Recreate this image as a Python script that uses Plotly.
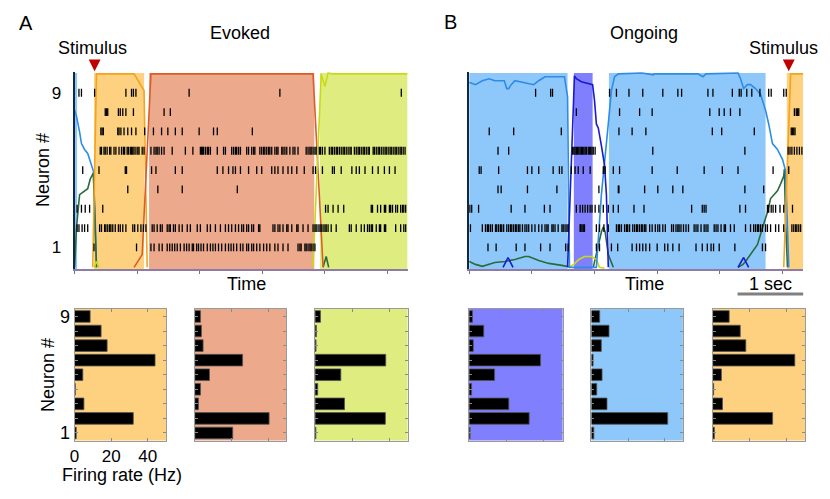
import plotly.graph_objects as go

W, H = 830, 499
FONT = "Liberation Sans, Arial, sans-serif"

# ---------------- data ----------------
neurons = [1, 2, 3, 4, 5, 6, 7, 8, 9]

# Evoked trial: spike times (s) per neuron
ev_n1 = [0.31, 0.99, 1.22, 1.27, 1.35, 1.40, 1.48, 1.52, 1.56, 1.60, 1.64, 1.69, 1.75, 1.79, 1.83, 1.88, 1.90, 1.95, 1.98,
         2.02, 2.06, 2.12, 2.17, 2.21, 2.25, 2.30, 2.35, 2.41, 2.46, 2.50, 2.54, 2.59, 2.65, 2.69, 2.75, 2.78, 2.83, 2.86,
         2.91, 2.96, 3.02, 3.07, 3.12, 3.20, 3.25, 3.33, 3.41, 3.57, 3.60, 3.62, 3.68, 3.70, 3.73, 3.76, 3.78, 3.81, 3.84]
ev_n2 = [0.04, 0.07, 0.12, 0.16, 0.21, 0.40, 0.43, 0.48, 0.50, 0.53, 0.56, 0.58, 0.61, 0.65, 0.70, 0.73, 0.77, 0.82, 0.93,
         0.96, 1.01, 1.06, 1.10, 1.14, 1.24, 1.27, 1.32, 1.37, 1.40, 1.48, 1.51, 1.53, 1.58, 1.61, 1.67, 1.72, 1.80, 1.85,
         1.96, 2.01, 2.12, 2.17, 2.25, 2.33, 2.41, 2.46, 2.51, 2.57, 2.62, 2.67, 2.70, 2.75, 2.78, 2.83, 2.86, 2.94, 2.96,
         3.17, 3.20, 3.25, 3.28, 3.33, 3.39, 3.41, 3.47, 3.55, 3.57, 3.65, 3.73, 3.81, 3.84, 3.86, 3.89, 3.92, 3.94, 3.97,
         4.00, 4.02, 4.05, 4.10, 4.18, 4.39, 4.42, 4.50, 4.58, 4.63, 4.68, 4.71, 4.74, 4.76, 4.82, 4.87, 4.89, 4.95, 4.97,
         5.13, 5.21, 5.26, 5.29]
ev_n3 = [0.04, 0.11, 0.17, 0.24, 0.45, 4.01, 4.05, 4.13, 4.21, 4.30, 4.74, 4.76, 4.84, 4.89, 4.95, 4.97, 5.03, 5.05, 5.08,
         5.13, 5.16, 5.21, 5.24, 5.26, 5.29]
ev_n4 = [0.85, 1.33, 1.72, 2.60]
ev_n5 = [0.13, 0.39, 0.81, 0.83, 1.23, 1.30, 1.61, 1.72, 2.28, 2.37, 2.46, 2.53, 2.57, 2.65, 2.78, 2.91, 2.99, 3.15, 3.20,
         3.25, 3.33, 3.41, 3.47, 3.55, 3.67, 3.81, 3.85, 3.96, 4.12, 4.15, 4.26, 4.43, 4.50, 4.55, 4.64, 4.76, 4.85, 4.95,
         5.03, 5.12]
ev_n6 = [0.41, 0.43, 0.47, 0.49, 0.52, 0.56, 0.58, 0.63, 0.66, 0.71, 0.75, 0.78, 0.80, 0.84, 0.86, 0.89, 0.91, 0.93, 0.95,
         0.98, 1.01, 1.03, 1.08, 1.11, 1.22, 1.27, 1.30, 1.32, 1.35, 1.39, 1.43, 1.56, 1.77, 1.89, 2.01, 2.03, 2.04, 2.06,
         2.09, 2.12, 2.14, 2.17, 2.28, 2.38, 2.41, 2.51, 2.54, 2.57, 2.59, 2.62, 2.65, 2.75, 2.78, 2.83, 2.86, 2.88, 2.96,
         2.99, 3.02, 3.04, 3.07, 3.10, 3.12, 3.15, 3.20, 3.23, 3.25, 3.31, 3.33, 3.36, 3.39, 3.44, 3.49, 3.52, 3.57, 3.70,
         3.73, 3.76, 3.78, 3.81, 3.84, 3.86, 3.91, 3.93, 3.96, 4.00, 4.07, 4.10, 4.12, 4.15, 4.18, 4.20, 4.23, 4.26, 4.29,
         4.31, 4.34, 4.37, 4.40, 4.42, 4.47, 4.50, 4.53, 4.55, 4.58, 4.61, 4.63, 4.66, 4.69, 4.71, 4.77, 4.79, 4.82, 4.85,
         4.87, 4.90, 4.93, 4.96, 4.98, 5.01, 5.04, 5.06, 5.09, 5.12, 5.14, 5.17, 5.20, 5.22, 5.25, 5.28]
ev_n7 = [0.42, 0.44, 0.46, 0.69, 0.71, 0.74, 0.79, 0.85, 0.91, 0.98, 1.12, 1.26, 1.39, 1.49, 1.61, 1.72, 1.99, 2.22, 2.28,
         2.84]
ev_n8 = [0.49, 0.51, 0.53, 0.70, 0.73, 0.77, 0.82, 0.94, 1.43, 1.53]
ev_n9 = [0.07, 0.11, 0.32, 0.82, 0.91, 0.94, 0.98, 1.83, 3.28, 5.22]

# Ongoing trial: spike times (s) per neuron
on_n1 = [0.30, 0.43, 0.75, 0.89, 1.14, 1.29, 1.54, 1.58, 2.03, 2.08, 2.27, 2.37, 2.60, 2.67, 2.72, 2.77, 2.82, 2.88, 3.00,
         3.12, 3.17, 3.25, 3.35, 3.62, 3.72, 3.80, 3.86, 3.90, 3.99, 4.24, 4.68, 4.73]
on_n2 = [0.02, 0.21, 0.26, 0.29, 0.31, 0.34, 0.37, 0.42, 0.44, 0.47, 0.50, 0.52, 0.55, 0.60, 0.63, 0.66, 0.68, 0.71, 0.74,
         0.76, 0.79, 0.81, 0.85, 0.89, 0.92, 0.95, 1.00, 1.05, 1.11, 1.16, 1.21, 1.24, 1.26, 1.32, 1.34, 1.37, 1.42, 1.48,
         1.50, 1.53, 1.56, 1.58, 1.77, 1.78, 1.80, 1.82, 1.84, 2.03, 2.08, 2.15, 2.22, 2.35, 2.38, 2.40, 2.43, 2.48, 2.51,
         2.53, 2.56, 2.61, 2.64, 2.67, 2.69, 2.72, 2.75, 2.77, 2.80, 2.82, 2.88, 2.92, 2.97, 3.01, 3.04, 3.09, 3.13, 3.23,
         3.26, 3.30, 3.33, 3.35, 3.38, 3.42, 3.46, 3.50, 3.59, 3.62, 3.65, 3.70, 3.75, 3.78, 3.81, 3.91, 3.94, 3.97, 4.02,
         4.07, 4.09, 4.17, 4.23, 4.41, 4.49, 4.54, 4.57, 4.60, 4.62, 4.65, 4.68, 4.73, 4.76, 4.81, 4.89, 4.94, 5.02, 5.15,
         5.18, 5.21, 5.23, 5.26, 5.29]
on_n3 = [0.01, 0.04, 0.15, 0.67, 0.89, 1.20, 1.29, 1.71, 1.77, 1.81, 1.85, 1.89, 1.93, 1.96, 2.01, 2.07, 2.14, 2.22, 2.30,
         2.38, 2.63, 2.79, 3.55, 3.72, 3.75, 3.78, 4.32, 4.41, 4.76, 4.78, 4.82, 4.85, 4.89, 4.96, 5.02, 5.16]
on_n4 = [0.46, 0.51, 0.93, 1.40, 2.07, 2.38, 2.39, 2.80, 3.01, 3.25, 3.41, 4.40, 4.70]
on_n5 = [0.16, 0.19, 0.47, 0.93, 1.00, 1.11, 1.34, 1.44, 1.48, 1.63, 1.69, 1.74, 1.82, 1.93, 2.14, 2.17, 2.30, 2.40, 2.92,
         3.32, 3.75, 4.04, 4.29, 4.85, 5.10]
on_n6 = [0.46, 0.63, 1.65, 1.67, 1.69, 1.71, 1.73, 1.75, 1.77, 1.79, 1.81, 1.83, 1.85, 1.87, 1.90, 1.92, 1.94, 1.96, 1.98,
         2.01, 2.93, 4.40, 5.09, 5.12, 5.15, 5.19, 5.23, 5.27, 5.31]
on_n7 = [0.32, 0.71, 1.47, 2.39, 2.60, 2.82, 3.88, 4.03, 4.55, 5.14, 5.16, 5.18, 5.20]
on_n8 = [1.71, 2.40, 2.72, 2.92, 3.84, 3.99, 4.07, 4.17, 4.32, 5.19, 5.22, 5.24, 5.26]
on_n9 = [1.06, 1.30, 1.33, 2.24, 2.35, 2.55, 2.77, 3.09, 3.33, 3.39, 3.81, 3.89, 4.20, 4.31, 4.34, 4.43, 4.51, 4.64, 4.78,
         4.82, 5.02, 5.06]

evoked_spikes = [ev_n1, ev_n2, ev_n3, ev_n4, ev_n5, ev_n6, ev_n7, ev_n8, ev_n9]
ongoing_spikes = [on_n1, on_n2, on_n3, on_n4, on_n5, on_n6, on_n7, on_n8, on_n9]

# Decoded state intervals (s)
ev_state_start = [0.00, 0.31, 1.19, 3.92]
ev_state_end = [0.04, 1.11, 3.83, 5.32]
ev_state_name = ["blue", "orange", "salmon", "lime"]
on_state_start = [0.00, 1.67, 2.23, 5.07]
on_state_end = [1.57, 1.97, 4.73, 5.33]
on_state_name = ["blue", "purple", "blue", "orange"]

# State posterior probabilities, evoked trial
ev_blue_t = [0.00, 0.03, 0.08, 0.11, 0.16, 0.21, 0.25, 0.30, 0.33, 0.35]
ev_blue_p = [0.81, 0.78, 0.70, 0.64, 0.61, 0.59, 0.55, 0.50, 0.25, 0.01]
ev_green_t = [0.00, 0.03, 0.08, 0.16, 0.21, 0.25, 0.30, 0.33, 0.35, None, 3.97, 4.02, 4.06]
ev_green_p = [0.01, 0.21, 0.38, 0.40, 0.41, 0.46, 0.49, 0.20, 0.01, None, 0.01, 0.065, 0.01]
ev_orange_t = [0.29, 0.35, 0.95, 1.11, 1.16]
ev_orange_p = [0.01, 0.995, 0.995, 0.91, 0.01]
ev_salmon_t = [0.95, 1.08, 1.22, 3.81, 3.97]
ev_salmon_p = [0.01, 0.075, 0.995, 0.995, 0.01]
ev_lime_t = [0.31, 0.35, 0.39, None, 3.81, 3.94, 4.00, 4.05, 4.13, 5.32]
ev_lime_p = [0.01, 0.04, 0.01, None, 0.01, 0.995, 0.93, 1.00, 0.995, 0.995]

# State posterior probabilities, ongoing trial
on_blue_t = [0.00, 0.02, 0.10, 0.21, 0.32, 0.41, 0.56, 0.60, 0.63, 0.67, 0.73, 0.89, 1.03, 1.11, 1.21, 1.37, 1.52, 1.57,
             1.60, 2.03, 2.11, 2.22, 2.27, 2.32, 2.38, 2.75, 2.90, 2.94, 2.95, 3.65, 3.73, 3.78, 4.29, 4.33, 4.38, 4.44,
             4.49, 4.57, 4.65, 4.73, 4.78, 4.84, 4.92, 5.00, 5.05, 5.08, 5.10]
on_blue_p = [0.95, 0.95, 0.94, 0.96, 0.97, 0.96, 0.96, 0.92, 0.92, 0.94, 0.96, 0.95, 0.94, 0.96, 0.98, 0.98, 0.98, 0.88,
             0.01, 0.01, 0.38, 0.74, 0.91, 0.98, 0.995, 1.00, 0.995, 0.99, 0.995, 0.995, 0.98, 0.995, 1.00, 0.97, 0.92,
             0.94, 0.94, 0.92, 0.89, 0.81, 0.74, 0.64, 0.61, 0.56, 0.50, 0.24, 0.01]
on_purple_t = [0.54, 0.62, 0.70, None, 1.57, 1.63, 1.68, 1.71, 1.79, 1.97, 2.00, 2.03, 2.06, 2.11, 2.16, 2.19, 2.22,
               None, 4.29, 4.38, 4.46]
on_purple_p = [0.01, 0.06, 0.01, None, 0.01, 0.52, 0.985, 0.97, 0.955, 0.94, 0.86, 0.74, 0.72, 0.63, 0.53, 0.38, 0.01,
               None, 0.01, 0.06, 0.01]
on_green_t = [0.00, 0.10, 0.21, 0.32, 0.41, 0.57, 0.73, 0.89, 0.95, 1.11, 1.27, 1.48, 1.59, 1.63, None, 1.98, 2.06,
              2.11, 2.14, 2.17, 2.22, 2.30, None, 4.29, 4.37, 4.41, 4.49, 4.60, 4.68, 4.76, 4.81, 4.86, 4.92, 4.97,
              5.02, 5.03, 5.05, 5.08]
on_green_p = [0.04, 0.025, 0.015, 0.025, 0.035, 0.04, 0.05, 0.065, 0.065, 0.045, 0.03, 0.02, 0.015, 0.01, None, 0.01,
              0.125, 0.19, 0.215, 0.19, 0.075, 0.01, None, 0.01, 0.025, 0.04, 0.075, 0.125, 0.21, 0.29, 0.36, 0.38,
              0.40, 0.435, 0.475, 0.51, 0.24, 0.01]
on_lime_t = [1.59, 1.67, 1.75, 1.84, 1.95, 2.03, 2.08, 2.16]
on_lime_p = [0.01, 0.025, 0.05, 0.065, 0.065, 0.05, 0.01, 0.005]
on_orange_t = [5.02, 5.13, 5.33]
on_orange_p = [0.01, 0.995, 0.995]

ev_stimulus_t = 0.32
on_stimulus_t = 5.10

# Firing rates (Hz) of neurons 1..9 in each state
rate_ev_orange = [0.9, 32.1, 5.1, 0.4, 4.5, 44.0, 17.8, 14.5, 8.5]
rate_ev_salmon = [20.7, 40.6, 2.0, 3.1, 8.0, 26.1, 4.5, 3.6, 3.1]
rate_ev_lime = [0.4, 38.0, 15.9, 1.4, 13.9, 38.2, 0.5, 0.7, 2.9]
rate_on_purple = [0.5, 32.1, 21.2, 1.3, 13.6, 38.2, 2.2, 7.8, 1.8]
rate_on_blue = [1.3, 41.7, 8.5, 2.9, 5.8, 0.9, 5.4, 9.6, 4.5]
rate_on_orange = [0.9, 32.4, 5.3, 0.5, 4.7, 44.4, 17.9, 14.9, 8.9]
rate_ticks = [0, 20, 40]

# ---------------- style ----------------
FILL = {"blue": "#8EC7FA", "orange": "#FDD17F", "salmon": "#ECA98C", "lime": "#DFEC7F", "purple": "#8080FF"}
LINE = {"blue": "#2D8DE6", "orange": "#F5A21E", "salmon": "#DE5B24", "lime": "#C9DA14", "purple": "#1A1AD0",
        "green": "#2B6B3B"}


def px_x(v):
    return v / W


def px_y(v):
    return 1 - v / H


fig = go.Figure()

TOP_Y = [px_y(270), px_y(71)]
panels_top = [
    dict(x="x", yp="y", yn="y2", dom=[px_x(70), px_x(405)], rng=[0, 5.32],
         starts=ev_state_start, ends=ev_state_end, names=ev_state_name, spikes=evoked_spikes,
         curves=[(ev_blue_t, ev_blue_p, "blue"), (ev_green_t, ev_green_p, "green"),
                 (ev_orange_t, ev_orange_p, "orange"), (ev_salmon_t, ev_salmon_p, "salmon"),
                 (ev_lime_t, ev_lime_p, "lime")],
         stim=ev_stimulus_t, labels=True),
    dict(x="x2", yp="y3", yn="y4", dom=[px_x(467), px_x(803)], rng=[0, 5.33],
         starts=on_state_start, ends=on_state_end, names=on_state_name, spikes=ongoing_spikes,
         curves=[(on_green_t, on_green_p, "green"), (on_lime_t, on_lime_p, "lime"),
                 (on_blue_t, on_blue_p, "blue"), (on_purple_t, on_purple_p, "purple"),
                 (on_orange_t, on_orange_p, "orange")],
         stim=on_stimulus_t, labels=False),
]

for P in panels_top:
    # state fills
    for s, e, n in zip(P["starts"], P["ends"], P["names"]):
        fig.add_trace(go.Scatter(x=[s, s, e, e, s], y=[0, 1, 1, 0, 0], xaxis=P["x"], yaxis=P["yp"],
                                 mode="lines", fill="toself", fillcolor=FILL[n],
                                 line=dict(width=0, color=FILL[n]), hoverinfo="skip", showlegend=False))
    # posterior curves
    for t, p, c in P["curves"]:
        fig.add_trace(go.Scatter(x=t, y=p, xaxis=P["x"], yaxis=P["yp"], mode="lines",
                                 line=dict(color=LINE[c], width=1.6), hoverinfo="skip", showlegend=False,
                                 connectgaps=False))
    # spikes
    sx, sy = [], []
    for n, times in zip(neurons, P["spikes"]):
        sx += times
        sy += [n] * len(times)
    fig.add_trace(go.Scatter(x=sx, y=sy, xaxis=P["x"], yaxis=P["yn"], mode="markers",
                             marker=dict(symbol="line-ns", size=5.6, line=dict(width=1.3, color="black")),
                             hoverinfo="skip", showlegend=False))

lay = dict(width=W, height=H, margin=dict(l=0, r=0, t=0, b=0), paper_bgcolor="white", plot_bgcolor="white",
           showlegend=False, font=dict(family=FONT, size=17, color="black"))

for i, P in enumerate(panels_top):
    xa = "xaxis" if P["x"] == "x" else "xaxis2"
    ypa = "yaxis" if P["yp"] == "y" else "yaxis" + P["yp"][1:]
    yna = "yaxis" + P["yn"][1:]
    lay[xa] = dict(domain=P["dom"], range=P["rng"], anchor=P["yp"], showgrid=False, zeroline=False,
                   showline=True, linecolor="#8E7BA8", linewidth=2, ticks="outside", ticklen=3,
                   tickcolor="#777", tick0=0, dtick=1, showticklabels=False)
    lay[ypa] = dict(domain=TOP_Y, range=[0, 1.003], anchor=P["x"], visible=False, showgrid=False)
    lay[yna] = dict(overlaying=P["yp"], anchor=P["x"], range=[-0.13, 10.06], side="left", showgrid=False,
                    zeroline=False, showline=True, linecolor="#102840", linewidth=2, ticks="",
                    tickvals=[1, 9], ticktext=["1", "9"], showticklabels=P["labels"],
                    ticklabelstandoff=8, tickfont=dict(size=17, family=FONT))

# ---------------- bar panels ----------------
BAR_Y = [px_y(443), px_y(310)]
bar_panels = [
    (rate_ev_orange, "orange", 70, 162),
    (rate_ev_salmon, "salmon", 191, 283),
    (rate_ev_lime, "lime", 312, 405),
    (rate_on_purple, "purple", 467, 561),
    (rate_on_blue, "blue", 590, 682),
    (rate_on_orange, "orange", 712, 805),
]
shapes = []
for k, (rates, col, x0, x1) in enumerate(bar_panels):
    xi, yi = k + 3, k + 5
    fig.add_trace(go.Bar(x=rates, y=neurons, orientation="h", xaxis="x%d" % xi, yaxis="y%d" % yi,
                         width=0.8, marker=dict(color="black", line=dict(color="#555555", width=0.8)),
                         hoverinfo="skip", showlegend=False))
    first = k == 0
    lay["xaxis%d" % xi] = dict(domain=[px_x(x0), px_x(x1)], range=[0, 50], anchor="y%d" % yi, showgrid=False,
                               zeroline=False, showline=True, mirror="ticks", linecolor="#9A9A9A", linewidth=1,
                               ticks="inside", ticklen=3, tickcolor="#8A8A8A", tickvals=rate_ticks,
                               ticktext=[str(v) for v in rate_ticks], showticklabels=first,
                               tickfont=dict(size=17, family=FONT))
    lay["yaxis%d" % yi] = dict(domain=BAR_Y, range=[0.48, 9.52], anchor="x%d" % xi, showgrid=False,
                               zeroline=False, showline=True, mirror="ticks", linecolor="#9A9A9A", linewidth=1,
                               ticks="inside", ticklen=3, tickcolor="#8A8A8A", tickvals=neurons,
                               ticktext=["1", "", "", "", "", "", "", "", "9"], showticklabels=first,
                               tickfont=dict(size=18, family=FONT))
    shapes.append(dict(type="rect", xref="x%d domain" % xi, yref="y%d domain" % yi, x0=0, x1=1, y0=0, y1=1,
                       fillcolor=FILL[col], line=dict(width=0), layer="below"))

# stimulus markers: red downward triangles at the stimulus time on each time axis
TRI_HALF = 0.095  # half width in seconds (style)
for xref, t in (("x", ev_stimulus_t), ("x2", on_stimulus_t)):
    path = "M %f,%f L %f,%f L %f,%f Z" % (t - TRI_HALF, px_y(58), t + TRI_HALF, px_y(58), t, px_y(70))
    shapes.append(dict(type="path", xref=xref, yref="paper", path=path, fillcolor="#C00000",
                       line=dict(width=0)))

# scale bar (1 sec)
shapes.append(dict(type="line", xref="paper", yref="paper", x0=px_x(737), x1=px_x(803), y0=px_y(295),
                   y1=px_y(295), line=dict(color="#808080", width=3)))

lay["shapes"] = shapes
lay["bargap"] = 0.2


def ann(text, x, y, size=18, angle=0):
    return dict(text=text, x=px_x(x), y=px_y(y), xref="paper", yref="paper", showarrow=False,
                xanchor="center", yanchor="middle", textangle=angle, font=dict(size=size, family=FONT))


lay["annotations"] = [
    ann("A", 21, 21, 20), ann("B", 448, 20, 20),
    ann("Evoked", 236, 31), ann("Ongoing", 643, 31),
    ann("Stimulus", 88, 46), ann("Stimulus", 783, 46),
    ann("Neuron #", 39, 170, 18, -90), ann("Neuron #", 43, 377, 18, -90),
    ann("Time", 243, 285), ann("Time", 643, 285), ann("1 sec", 770, 285),
    ann("Firing rate (Hz)", 118, 478),
]

fig.update_layout(**lay)
fig.write_html("out.html", config={"displayModeBar": False},
               post_script="document.body.style.margin='0';document.body.style.overflow='hidden';")
